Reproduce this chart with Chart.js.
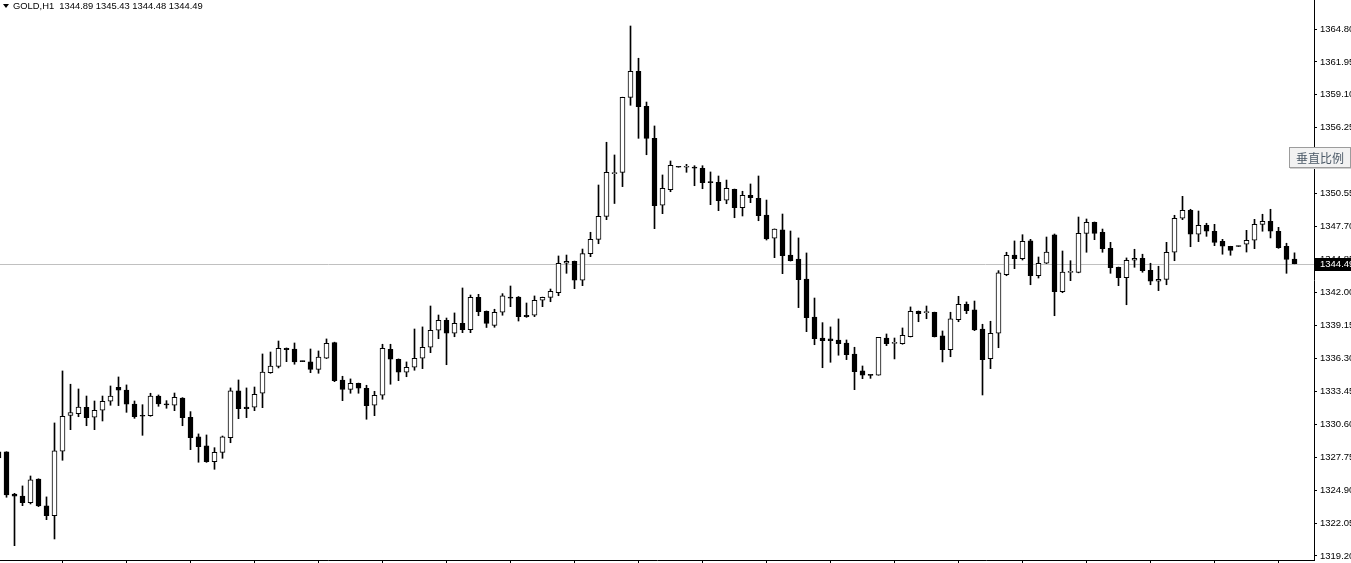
<!DOCTYPE html>
<html>
<head>
<meta charset="utf-8">
<script src="https://cdn.jsdelivr.net/npm/chart.js@4.4.1/dist/chart.umd.min.js"></script>
<style>
  html, body { margin: 0; padding: 0; background: #fff; overflow: hidden; }
  #wrap { position: relative; width: 1351px; height: 563px; }
  #hdr { position: absolute; left: 3px; top: 0px; font: 9.4px "Liberation Sans", Arial, sans-serif; color: #000; white-space: pre; line-height: 12px; }
  #tri { display: inline-block; width: 0; height: 0; border-left: 3.5px solid transparent; border-right: 3.5px solid transparent; border-top: 4px solid #000; margin-right: 4px; vertical-align: 1px; }
  #btn { position: absolute; left: 1289px; top: 147px; width: 60px; height: 19px; border: 1px solid #9c9c9c; background: #f2f2f2; box-shadow: 1px 1px 0 #d0d0d0; font: 12px "Noto Sans CJK SC", sans-serif; color: #4a5866; text-align: center; line-height: 19px; }
</style>
</head>
<body>
<div id="wrap">
  <canvas id="c" width="1351" height="563"></canvas>
  <div id="hdr"><span id="tri"></span>GOLD,H1  1344.89 1345.43 1344.48 1344.49</div>
  <div id="btn">垂直比例</div>
</div>
<script>
const opens = [1328.20,1328.20,1324.56,1324.39,1323.81,1325.86,1323.53,1322.69,1328.26,1331.37,
1331.51,1332.07,1331.20,1331.81,1332.59,1333.80,1333.56,1332.35,1331.37,1331.34,
1333.04,1332.35,1332.24,1332.87,1331.20,1329.50,1328.72,1327.36,1328.17,1329.44,
1333.48,1332.09,1332.07,1333.28,1335.06,1335.61,1337.17,1337.11,1336.07,1335.99,
1335.35,1336.31,1337.66,1334.43,1333.62,1334.14,1333.71,1332.24,1333.11,1337.09,
1336.22,1335.10,1335.53,1336.31,1337.26,1338.73,1339.59,1338.47,1339.33,1338.78,
1341.58,1340.37,1339.16,1340.29,1341.61,1341.61,1340.03,1340.03,1341.33,1341.58,
1341.98,1344.53,1344.70,1343.06,1345.36,1346.60,1348.59,1352.28,1352.40,1358.89,
1361.14,1358.11,1355.34,1349.55,1350.90,1352.88,1352.84,1352.86,1352.75,1351.56,
1351.54,1349.98,1350.93,1349.34,1350.41,1350.15,1348.69,1346.69,1347.43,1345.24,
1344.90,1343.17,1339.88,1338.06,1337.98,1337.89,1337.63,1336.68,1335.21,1334.87,
1334.84,1338.06,1337.60,1337.57,1338.18,1340.37,1340.25,1340.29,1338.24,1337.05,
1339.65,1340.98,1340.49,1338.84,1336.27,1338.47,1343.54,1345.24,1344.92,1346.46,
1343.45,1344.53,1346.98,1342.07,1343.74,1343.74,1347.12,1348.07,1347.21,1345.82,
1344.18,1343.28,1344.79,1344.96,1343.92,1342.97,1343.14,1345.48,1348.42,1349.11,
1347.04,1347.81,1347.30,1346.43,1346.00,1346.02,1346.17,1346.52,1347.90,1348.16,
1347.30,1346.00,1344.89];

const highs = [1328.45,1328.22,1324.62,1325.26,1326.12,1325.88,1324.31,1330.71,1335.21,1334.06,
1333.65,1333.04,1332.61,1333.04,1333.91,1334.69,1334.00,1332.61,1332.29,1333.28,
1333.13,1332.64,1333.30,1332.90,1331.69,1329.76,1329.67,1328.57,1329.58,1333.74,
1334.43,1333.74,1333.82,1336.68,1336.85,1337.80,1337.20,1337.63,1336.07,1337.11,
1336.94,1337.98,1337.70,1334.75,1334.52,1334.16,1333.97,1333.45,1337.52,1337.52,
1336.25,1335.99,1338.84,1339.02,1340.83,1340.05,1339.79,1340.23,1342.39,1341.78,
1341.84,1340.40,1340.55,1341.90,1342.56,1341.65,1341.09,1341.70,1341.60,1342.30,
1345.16,1345.24,1344.72,1345.76,1347.21,1351.30,1355.00,1353.90,1358.90,1365.06,
1362.27,1358.48,1356.41,1352.17,1353.38,1352.88,1353.09,1352.97,1352.97,1352.43,
1352.08,1351.73,1350.95,1350.76,1351.39,1352.08,1350.00,1347.50,1348.79,1347.32,
1346.72,1345.42,1341.52,1339.39,1339.02,1339.71,1337.89,1337.26,1335.64,1334.87,
1338.12,1338.41,1338.06,1338.93,1340.75,1340.40,1340.83,1340.30,1338.67,1340.29,
1341.67,1341.18,1341.26,1339.25,1339.51,1343.89,1345.48,1346.46,1347.00,1346.60,
1345.07,1346.80,1347.06,1345.59,1344.75,1348.53,1348.36,1348.10,1347.49,1346.34,
1344.20,1344.99,1345.74,1345.31,1344.53,1344.27,1346.34,1348.68,1350.32,1349.20,
1349.05,1347.99,1347.90,1346.60,1346.00,1346.02,1347.38,1348.33,1348.77,1349.20,
1347.64,1346.26,1345.43];

const lows = [1327.50,1324.28,1320.09,1323.55,1323.70,1323.47,1322.34,1320.67,1327.48,1330.13,
1331.25,1330.47,1330.13,1330.88,1332.24,1332.21,1331.63,1331.11,1329.64,1331.29,
1332.15,1331.98,1331.77,1330.47,1328.40,1327.31,1327.30,1326.70,1327.65,1329.00,
1331.08,1331.17,1331.77,1332.03,1335.01,1335.47,1336.01,1335.79,1336.02,1335.06,
1335.01,1336.28,1334.28,1332.64,1333.28,1333.28,1331.03,1331.34,1332.76,1334.06,
1334.37,1334.71,1335.27,1335.41,1336.79,1338.00,1335.75,1338.17,1338.52,1338.52,
1339.99,1338.97,1338.99,1340.03,1340.77,1339.53,1339.85,1339.91,1340.77,1341.20,
1341.72,1343.66,1342.33,1342.59,1345.10,1346.22,1348.30,1349.70,1351.16,1358.20,
1355.34,1353.92,1347.52,1348.82,1350.72,1352.84,1352.40,1351.24,1350.98,1349.60,
1349.08,1349.68,1348.47,1348.62,1349.77,1348.21,1346.54,1345.01,1343.63,1344.72,
1340.69,1338.61,1337.48,1335.49,1335.96,1336.57,1336.19,1333.59,1334.54,1334.57,
1334.84,1337.40,1336.25,1337.52,1338.15,1339.47,1339.73,1338.15,1335.99,1336.44,
1339.47,1340.17,1338.70,1333.13,1335.41,1337.22,1343.45,1344.06,1344.81,1342.67,
1343.25,1344.50,1339.99,1341.98,1343.02,1343.70,1345.48,1346.57,1345.48,1343.66,
1342.59,1340.94,1344.18,1343.75,1342.67,1342.16,1342.67,1344.75,1348.30,1345.96,
1346.40,1346.86,1346.05,1345.31,1345.22,1345.98,1345.50,1345.79,1347.30,1346.72,
1345.82,1343.66,1344.48];

const closes = [1327.68,1324.48,1324.37,1323.81,1325.78,1323.53,1322.69,1328.29,1331.29,1331.60,
1332.09,1331.17,1331.81,1332.59,1333.04,1333.54,1332.33,1331.25,1331.29,1333.04,
1332.35,1332.27,1332.93,1331.17,1329.44,1328.66,1327.36,1328.17,1329.50,1333.48,
1331.94,1331.94,1333.19,1335.12,1335.64,1337.17,1337.05,1335.99,1336.02,1335.35,
1336.42,1337.60,1334.37,1333.62,1334.14,1333.71,1332.21,1333.11,1337.17,1336.22,
1335.10,1335.53,1336.31,1337.26,1338.73,1339.59,1338.47,1339.33,1338.78,1341.58,
1340.34,1339.33,1340.29,1341.70,1341.50,1339.91,1339.91,1341.33,1341.58,1342.10,
1344.53,1344.70,1343.06,1345.36,1346.60,1348.59,1352.40,1352.36,1358.89,1361.14,
1358.08,1355.34,1349.51,1351.02,1353.01,1352.84,1352.88,1352.75,1351.50,1351.50,
1349.94,1351.02,1349.34,1350.41,1350.20,1348.65,1346.63,1347.49,1345.18,1344.75,
1343.11,1339.82,1338.00,1337.83,1337.83,1337.57,1336.62,1335.15,1334.84,1334.82,
1338.12,1337.57,1337.66,1338.30,1340.37,1340.17,1340.30,1338.18,1337.05,1339.71,
1340.98,1340.43,1338.76,1336.19,1338.47,1343.69,1345.22,1344.92,1346.43,1343.45,
1344.53,1345.50,1342.07,1343.77,1343.80,1347.12,1348.07,1347.12,1345.79,1344.15,
1343.28,1344.79,1344.96,1343.89,1342.97,1343.14,1345.48,1348.42,1349.11,1347.04,
1347.81,1347.30,1346.34,1346.00,1345.65,1345.98,1346.52,1347.90,1348.16,1347.30,
1345.88,1344.87,1344.49];

const yTickLabels = [1364.80,1361.95,1359.10,1356.25,1353.40,1350.55,1347.70,1344.85,1342.00,
1339.15,1336.30,1333.45,1330.60,1327.75,1324.90,1322.05,1319.20];
const xTickCandles = [8,16,24,32,40,48,56,64,72,80,88,96,104,112,120,128,136,144,152,160];
const lastPrice = 1344.49;

const bodyData = opens.map((o, i) => ({ x: i, y: [o, closes[i]] }));
const wickData = opens.map((o, i) => ({ x: i, y: [lows[i], highs[i]] }));
const bodyColors = opens.map((o, i) => closes[i] > o ? '#ffffff' : '#000000');

const LABEL_FONT = { family: '"Liberation Sans", Arial, sans-serif', size: 9.5 };

const pricePlugin = {
  id: 'pricePlugin',
  beforeDatasetsDraw(chart) {
    const { ctx, chartArea, scales } = chart;
    const y = Math.round(scales.y.getPixelForValue(lastPrice)) + 0.5;
    ctx.save();
    ctx.strokeStyle = '#c0c0c0';
    ctx.lineWidth = 1;
    ctx.beginPath();
    ctx.moveTo(chartArea.left, y);
    ctx.lineTo(chartArea.right, y);
    ctx.stroke();
    ctx.restore();
  },
  afterDraw(chart) {
    const { ctx, chartArea, scales } = chart;
    const y = Math.round(scales.y.getPixelForValue(lastPrice));
    ctx.save();
    ctx.fillStyle = '#000';
    ctx.fillRect(chartArea.right + 1, y - 6, chart.width - chartArea.right - 1, 13);
    ctx.fillStyle = '#fff';
    ctx.font = '9.5px "Liberation Sans", Arial, sans-serif';
    ctx.textBaseline = 'middle';
    ctx.textAlign = 'left';
    ctx.fillText(lastPrice.toFixed(2), chartArea.right + 6, y + 0.5);
    ctx.restore();
  }
};

new Chart(document.getElementById('c'), {
  type: 'bar',
  data: {
    datasets: [
      {
        label: 'body',
        data: bodyData,
        backgroundColor: bodyColors,
        borderColor: '#000',
        borderWidth: 1,
        borderSkipped: false,
        barThickness: 5,
        minBarLength: 1,
        grouped: false,
        order: 0
      },
      {
        label: 'wick',
        data: wickData,
        backgroundColor: '#000',
        borderWidth: 0,
        barThickness: 1,
        grouped: false,
        order: 1
      }
    ]
  },
  options: {
    responsive: false,
    devicePixelRatio: 1,
    animation: false,
    layout: { padding: 0, autoPadding: false },
    plugins: { legend: { display: false }, tooltip: { enabled: false }, title: { display: false } },
    scales: {
      x: {
        type: 'linear',
        offset: false,
        min: 0.1875,
        max: 164.4375,
        afterBuildTicks: (s) => { s.ticks = xTickCandles.map(v => ({ value: v })); },
        afterFit: (s) => { s.height = 3; s.paddingLeft = 0; s.paddingRight = 0; },
        ticks: { display: false },
        grid: { display: true, offset: false, drawOnChartArea: false, drawTicks: true, tickLength: 3, color: '#000', lineWidth: 1 },
        border: { display: true, color: '#000', width: 1 }
      },
      y: {
        position: 'right',
        min: 1318.85,
        max: 1367.31,
        afterBuildTicks: (s) => { s.ticks = yTickLabels.map(v => ({ value: v })); },
        afterFit: (s) => { s.width = 37; s.paddingTop = 0; s.paddingBottom = 0; },
        ticks: {
          color: '#000',
          font: LABEL_FONT,
          padding: 3,
          autoSkip: false,
          callback: (v) => Number(v).toFixed(2)
        },
        grid: { display: true, offset: false, drawOnChartArea: false, drawTicks: true, tickLength: 3, color: '#000', lineWidth: 1 },
        border: { display: true, color: '#000', width: 1 }
      }
    }
  },
  plugins: [pricePlugin]
});
</script>
</body>
</html>
